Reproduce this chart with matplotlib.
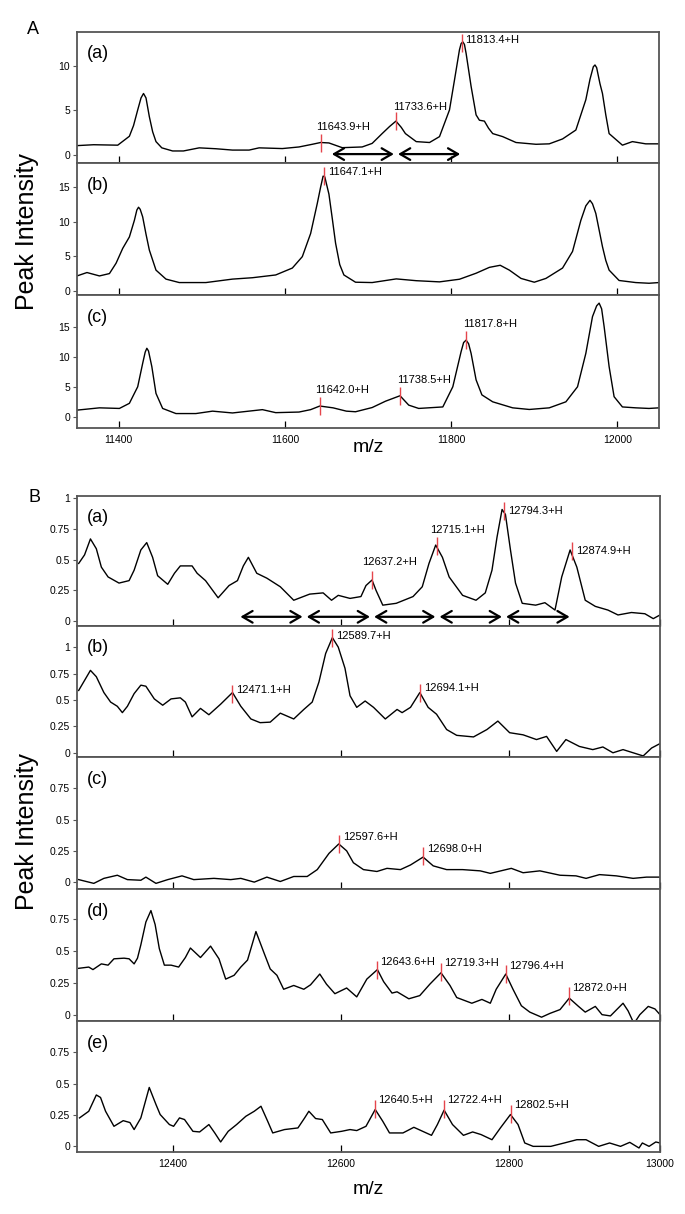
import matplotlib
matplotlib.use('Agg')
import matplotlib.pyplot as plt
from matplotlib.ticker import FuncFormatter

plt.rcParams['font.family'] = ['Liberation Sans Narrow', 'Liberation Sans', 'DejaVu Sans']

W, H = 685, 1214

# ---------------- panel A spectra ----------------
a_x1 = [11350, 11370, 11399, 11413, 11418, 11423, 11427, 11430, 11433, 11437, 11441, 11445,
        11452, 11465, 11478, 11497, 11517, 11537, 11557, 11569, 11597, 11617, 11633, 11643,
        11653, 11669, 11693, 11705, 11717, 11726, 11733.6, 11740, 11745, 11758, 11774, 11786,
        11798, 11804, 11810, 11812, 11814, 11816, 11818, 11824, 11830, 11834, 11840, 11845,
        11850, 11862, 11878, 11902, 11918, 11934, 11950, 11962, 11967, 11971, 11973, 11975,
        11979, 11982, 11986, 11990, 12006, 12018, 12034, 12050]
a_y1 = [1.05, 1.15, 1.1, 2.1, 3.3, 5.05, 6.4, 6.9, 6.4, 4.3, 2.6, 1.5,
        0.8, 0.45, 0.45, 0.8, 0.7, 0.55, 0.55, 0.8, 0.72, 0.9, 1.2, 1.4,
        1.35, 0.82, 0.9, 1.3, 2.4, 3.2, 3.8, 3.1, 2.4, 1.5, 1.4, 2.06,
        5.05, 8.4, 11.8, 12.5, 12.7, 12.4, 11.4, 7.7, 4.5, 3.9, 3.8, 3.0,
        2.4, 2.06, 1.4, 1.2, 1.25, 1.8, 2.8, 6.2, 8.5, 9.9, 10.1, 9.8,
        8.0, 6.9, 4.5, 2.4, 1.1, 1.5, 1.25, 1.25]

a_x2 = [11350, 11362, 11377, 11389, 11397, 11405, 11413, 11419, 11422, 11424, 11426, 11429,
        11433, 11437, 11445, 11457, 11473, 11505, 11537, 11561, 11589, 11609, 11621, 11631,
        11639, 11643, 11646, 11648, 11650, 11653, 11657, 11661, 11666, 11671, 11685, 11705,
        11734, 11758, 11786, 11810, 11830, 11846, 11859, 11870, 11884, 11900, 11914, 11934,
        11946, 11956, 11962, 11967, 11970, 11974, 11978, 11982, 11986, 11990, 12002, 12022,
        12038, 12050]
a_y2 = [2.16, 2.65, 2.16, 2.5, 4.0, 6.15, 7.8, 10.2, 11.7, 12.1, 11.8, 10.7,
        8.2, 5.9, 3.0, 1.7, 1.2, 1.2, 1.7, 1.9, 2.3, 3.3, 4.95, 8.3,
        12.65, 15.0, 16.6, 16.5, 15.5, 14.0, 10.5, 6.9, 3.8, 2.3, 1.25, 1.2,
        1.73, 1.47, 1.3, 1.68, 2.55, 3.4, 3.7, 3.0, 1.8, 1.25, 1.8, 3.3,
        5.7, 10.2, 12.3, 13.1, 12.6, 11.2, 8.8, 6.4, 4.4, 3.0, 1.5, 1.2,
        1.1, 1.2]

a_x3 = [11350, 11377, 11401, 11413, 11423, 11429, 11432, 11434, 11436, 11440, 11445, 11453,
        11469, 11493, 11513, 11537, 11573, 11589, 11617, 11631, 11642, 11658, 11674, 11685,
        11705, 11721, 11738.5, 11749, 11761, 11790, 11802, 11812, 11815, 11818, 11821, 11824,
        11830, 11837, 11850, 11874, 11894, 11918, 11938, 11952, 11962, 11970, 11975, 11978,
        11981, 11984, 11990, 11996, 12006, 12022, 12038, 12050]
a_y3 = [1.17, 1.55, 1.45, 2.3, 5.05, 8.95, 10.8, 11.45, 11.0, 8.4, 3.95, 1.45,
        0.6, 0.6, 1.0, 0.7, 1.25, 0.75, 0.85, 1.25, 1.85, 1.55, 1.0, 0.9,
        1.6, 2.65, 3.56, 2.0, 1.45, 1.7, 5.05, 10.9, 12.4, 12.8, 12.2, 10.6,
        6.2, 3.7, 2.55, 1.55, 1.28, 1.55, 2.55, 5.05, 10.6, 16.7, 18.5, 18.95,
        18.0, 15.05, 8.4, 3.4, 1.7, 1.55, 1.45, 1.55]

# labelled peaks (m/z, intensity at the mark)
a_pk1_x = [11643.9, 11733.6, 11813.4]
a_pk1_y = [1.4, 3.8, 12.6]
a_pk2_x = [11647.1]
a_pk2_y = [16.6]
a_pk3_x = [11642.0, 11738.5, 11817.8]
a_pk3_y = [1.85, 3.5, 12.9]

a_arrows = [11654, 11733.6, 11813.4]

# ---------------- panel B spectra ----------------
b_x1 = [12288, 12295, 12302, 12309, 12315, 12323, 12336, 12348, 12354, 12362, 12369, 12376,
        12382, 12394, 12402, 12409, 12423, 12429, 12439, 12454, 12467, 12477, 12484, 12490,
        12500, 12512, 12528, 12544, 12563, 12579, 12589, 12597, 12611, 12624, 12630, 12637.2,
        12642, 12650, 12666, 12686, 12697, 12705, 12713, 12721, 12729, 12745, 12761, 12772,
        12780, 12786, 12792, 12796, 12802, 12808, 12816, 12832, 12843, 12855, 12863, 12873,
        12881, 12891, 12903, 12918, 12930, 12946, 12962, 12972, 12980]
b_y1 = [0.47, 0.54, 0.67, 0.59, 0.44, 0.36, 0.31, 0.33, 0.415, 0.58, 0.64, 0.52,
        0.37, 0.30, 0.39, 0.45, 0.45, 0.39, 0.33, 0.19, 0.29, 0.33, 0.45, 0.52,
        0.39, 0.35, 0.28, 0.17, 0.22, 0.23, 0.17, 0.21, 0.185, 0.2, 0.29, 0.335,
        0.25, 0.13, 0.145, 0.2, 0.28, 0.47, 0.62, 0.52, 0.36, 0.21, 0.17, 0.23,
        0.415, 0.685, 0.91, 0.87, 0.58, 0.31, 0.145, 0.13, 0.15, 0.09, 0.36, 0.58,
        0.44, 0.17, 0.12, 0.09, 0.05, 0.07, 0.06, 0.02, 0.05]

b_x2 = [12288, 12295, 12302, 12309, 12318, 12326, 12334, 12340, 12346, 12354, 12362, 12368,
        12378, 12388, 12398, 12409, 12415, 12423, 12433, 12443, 12457, 12471.1, 12481, 12493,
        12504, 12516, 12528, 12544, 12556, 12566, 12574, 12582, 12590, 12597, 12605, 12611,
        12619, 12629, 12639, 12653, 12667, 12673, 12683, 12694.1, 12704, 12714, 12726, 12738,
        12758, 12774, 12787, 12801, 12817, 12833, 12845, 12857, 12868, 12884, 12900, 12912,
        12924, 12936, 12948, 12960, 12970, 12980]
b_y2 = [0.59, 0.685, 0.78, 0.72, 0.57, 0.48, 0.44, 0.38, 0.44, 0.56, 0.64, 0.63,
        0.51, 0.45, 0.51, 0.52, 0.48, 0.34, 0.42, 0.36, 0.46, 0.57, 0.44, 0.32,
        0.285, 0.29, 0.375, 0.32, 0.41, 0.48, 0.67, 0.94, 1.09, 1.0, 0.8, 0.54,
        0.43, 0.49, 0.43, 0.32, 0.41, 0.38, 0.43, 0.57, 0.43, 0.365, 0.22, 0.165,
        0.15, 0.22, 0.3, 0.19, 0.17, 0.125, 0.155, 0.013, 0.125, 0.06, 0.03, 0.055,
        0.0, 0.03, 0.0, -0.03, 0.045, 0.087]

b_x3 = [12288, 12306, 12318, 12334, 12346, 12362, 12368, 12380, 12394, 12411, 12425, 12449,
        12469, 12481, 12497, 12512, 12528, 12544, 12560, 12572, 12586, 12597.6, 12607, 12615,
        12627, 12643, 12655, 12671, 12683, 12698, 12710, 12726, 12745, 12766, 12778, 12803,
        12817, 12837, 12861, 12880, 12892, 12908, 12928, 12948, 12964, 12980]
b_y3 = [0.02, -0.01, 0.03, 0.055, 0.02, 0.015, 0.04, -0.01, 0.02, 0.05, 0.02, 0.03,
        0.02, 0.03, 0.0, 0.04, 0.005, 0.045, 0.045, 0.1, 0.23, 0.305, 0.25, 0.155,
        0.1, 0.085, 0.11, 0.1, 0.137, 0.2, 0.13, 0.1, 0.1, 0.09, 0.07, 0.11,
        0.075, 0.09, 0.055, 0.05, 0.03, 0.06, 0.05, 0.03, 0.04, 0.04]

b_x4 = [12288, 12300, 12305, 12315, 12323, 12330, 12342, 12348, 12354, 12358, 12362, 12368,
        12374, 12379, 12384, 12390, 12398, 12407, 12415, 12421, 12433, 12445, 12455, 12463,
        12473, 12481, 12489, 12499, 12509, 12516, 12524, 12532, 12544, 12556, 12564, 12575,
        12583, 12593, 12607, 12619, 12631, 12643.6, 12651, 12661, 12667, 12681, 12694, 12706,
        12719.3, 12730, 12738, 12756, 12768, 12778, 12785, 12796.4, 12805, 12815, 12825, 12839,
        12849, 12861, 12872, 12883, 12891, 12903, 12911, 12921, 12936, 12942, 12949, 12956,
        12966, 12974, 12980]
b_y4 = [0.365, 0.375, 0.355, 0.4, 0.39, 0.44, 0.445, 0.44, 0.4, 0.445, 0.55, 0.73,
        0.82, 0.71, 0.52, 0.39, 0.39, 0.375, 0.45, 0.525, 0.45, 0.54, 0.44, 0.28,
        0.31, 0.375, 0.43, 0.655, 0.48, 0.36, 0.31, 0.2, 0.23, 0.2, 0.235, 0.32,
        0.24, 0.165, 0.21, 0.14, 0.28, 0.355, 0.26, 0.17, 0.18, 0.125, 0.15, 0.24,
        0.33, 0.23, 0.135, 0.09, 0.12, 0.09, 0.2, 0.32, 0.2, 0.07, 0.02, -0.02,
        0.01, 0.04, 0.13, 0.065, 0.02, 0.065, 0.0, -0.01, 0.09, 0.03, -0.07, 0.0,
        0.065, 0.045, 0.0]

b_x5 = [12289, 12300, 12309, 12314, 12320, 12330, 12341, 12349, 12354, 12362, 12372, 12380,
        12385, 12396, 12401, 12408, 12414, 12424, 12432, 12443, 12450, 12457, 12466, 12476,
        12487, 12497, 12505, 12513, 12519, 12533, 12549, 12557, 12562, 12570, 12578, 12588,
        12601, 12611, 12619, 12630, 12641, 12650, 12658, 12674, 12687, 12708, 12715, 12723,
        12733, 12746, 12757, 12767, 12780, 12790, 12802, 12811, 12819, 12829, 12850, 12866,
        12881, 12892, 12907, 12920, 12933, 12944, 12955, 12959, 12967, 12975, 12980]
b_y5 = [0.227, 0.28, 0.41, 0.39, 0.28, 0.16, 0.205, 0.19, 0.134, 0.227, 0.47, 0.334,
        0.254, 0.174, 0.16, 0.227, 0.214, 0.12, 0.115, 0.174, 0.107, 0.035, 0.12, 0.174,
        0.24, 0.28, 0.32, 0.2, 0.107, 0.134, 0.147, 0.227, 0.28, 0.222, 0.214, 0.107,
        0.12, 0.134, 0.126, 0.16, 0.294, 0.2, 0.107, 0.107, 0.152, 0.088, 0.174, 0.289,
        0.174, 0.088, 0.115, 0.094, 0.053, 0.147, 0.254, 0.174, 0.027, 0.0, 0.0, 0.027,
        0.053, 0.053, 0.0, 0.027, 0.0, 0.032, -0.013, 0.027, 0.0, 0.035, 0.027]

b_pk1_x = [12637.2, 12715.1, 12794.3, 12874.9]
b_pk1_y = [0.335, 0.61, 0.9, 0.57]
b_pk2_x = [12471.1, 12589.7, 12694.1]
b_pk2_y = [0.56, 1.09, 0.567]
b_pk3_x = [12597.6, 12698.0]
b_pk3_y = [0.306, 0.21]
b_pk4_x = [12643.6, 12719.3, 12796.4, 12872.0]
b_pk4_y = [0.352, 0.338, 0.318, 0.144]
b_pk5_x = [12640.5, 12722.4, 12802.5]
b_pk5_y = [0.30, 0.30, 0.26]

b_arrows = [12478, 12557, 12637.2, 12715.1, 12794.3, 12874.9]

a_xticks = [11400, 11600, 11800, 12000]
b_xticks = [12400, 12600, 12800, 12980]
b_xticklabels = ['12400', '12600', '12800', '13000']

RED = '#e5454c'
SPINE = '#555555'
PX = 0.72  # points per pixel at dpi 100

fig = plt.figure(figsize=(W / 100, H / 100), dpi=100)


def add_panel(top, bottom, left, right, x, y, xlim, ylim, yticks, tag, xticks, xticklabels=None, show_x=False):
    ax = fig.add_axes([left / W, 1 - bottom / H, (right - left) / W, (bottom - top) / H])
    ax.plot(x, y, color='black', lw=1.0)
    ax.set_xlim(xlim)
    ax.set_ylim(ylim)
    ax.set_yticks(yticks)
    ax.yaxis.set_major_formatter(FuncFormatter(lambda v, p: '%g' % v))
    ax.set_xticks(xticks)
    if xticklabels is not None:
        ax.set_xticklabels(xticklabels)
    ax.tick_params(axis='y', direction='out', length=3, width=0.8, labelsize=7.5, pad=2, color=SPINE)
    ax.tick_params(axis='x', direction='in', length=5, width=0.9, labelsize=7.5, pad=5, color='black',
                   labelbottom=show_x)
    for s in ax.spines.values():
        s.set_color(SPINE)
        s.set_linewidth(1.3)
    ax.text(0.017, 1 - 22 / (bottom - top), tag, transform=ax.transAxes, fontsize=13,
            family=['Liberation Sans', 'DejaVu Sans'], va='center', ha='left')
    return ax


def mark_peaks(ax, xs, ys, offsets):
    # offsets: (dx px, dy px, mode) ; mode 'up' puts the label above the mark
    for x, y, (dx, dy, mode) in zip(xs, ys, offsets):
        ax.plot([x], [y], marker='|', ms=13, mew=1.0, color=RED, zorder=3)
        va = 'bottom' if mode == 'up' else 'center'
        ax.annotate('%.1f+H' % x, (x, y), xytext=(dx * PX, dy * PX), textcoords='offset points',
                    ha='left', va=va, fontsize=8)


def draw_arrows(ax, xs, y):
    for x0, x1 in zip(xs[:-1], xs[1:]):
        ax.annotate('', xy=(x1, y), xytext=(x0, y),
                    arrowprops=dict(arrowstyle='<->,head_length=0.6,head_width=0.35', lw=1.6,
                                    color='black', shrinkA=1.5, shrinkB=1.5, mutation_scale=12))


LA, RA = 77, 659
a_xlim = (11350, 12050)
ax = add_panel(32, 163, LA, RA, a_x1, a_y1, a_xlim, (-0.9, 13.8), [0, 5, 10], '(a)', a_xticks)
mark_peaks(ax, a_pk1_x, a_pk1_y, [(-5, 11, 'up'), (-3, 9, 'up'), (3, 3, 'r')])
draw_arrows(ax, a_arrows, 0.1)
ax = add_panel(163, 295, LA, RA, a_x2, a_y2, a_xlim, (-0.6, 18.5), [0, 5, 10, 15], '(b)', a_xticks)
mark_peaks(ax, a_pk2_x, a_pk2_y, [(4, 4, 'r')])
ax = add_panel(295, 428, LA, RA, a_x3, a_y3, a_xlim, (-1.8, 20.3), [0, 5, 10, 15], '(c)', a_xticks,
               show_x=True)
mark_peaks(ax, a_pk3_x, a_pk3_y, [(-5, 11, 'up'), (-3, 11, 'up'), (-3, 11, 'up')])

LB, RB = 77, 660
b_xlim = (12286, 12980)
ax = add_panel(496, 626, LB, RB, b_x1, b_y1, b_xlim, (-0.04, 1.02), [0, 0.25, 0.5, 0.75, 1], '(a)', b_xticks)
mark_peaks(ax, b_pk1_x, b_pk1_y, [(-10, 13, 'up'), (-7, 11, 'up'), (4, 0, 'r'), (4, 0, 'r')])
draw_arrows(ax, b_arrows, 0.035)
ax = add_panel(626, 757, LB, RB, b_x2, b_y2, b_xlim, (-0.04, 1.2), [0, 0.25, 0.5, 0.75, 1], '(b)', b_xticks)
mark_peaks(ax, b_pk2_x, b_pk2_y, [(4, 4, 'r'), (4, 2, 'r'), (4, 5, 'r')])
ax = add_panel(757, 889, LB, RB, b_x3, b_y3, b_xlim, (-0.055, 1.0), [0, 0.25, 0.5, 0.75], '(c)', b_xticks)
mark_peaks(ax, b_pk3_x, b_pk3_y, [(4, 7, 'r'), (4, 7, 'r')])
ax = add_panel(889, 1021, LB, RB, b_x4, b_y4, b_xlim, (-0.05, 0.99), [0, 0.25, 0.5, 0.75], '(d)', b_xticks)
mark_peaks(ax, b_pk4_x, b_pk4_y, [(3, 8, 'r'), (3, 9, 'r'), (3, 8, 'r'), (3, 8, 'r')])
ax = add_panel(1021, 1152, LB, RB, b_x5, b_y5, b_xlim, (-0.045, 1.0), [0, 0.25, 0.5, 0.75], '(e)', b_xticks,
               xticklabels=b_xticklabels, show_x=True)
mark_peaks(ax, b_pk5_x, b_pk5_y, [(3, 9, 'r'), (3, 9, 'r'), (3, 9, 'r')])

# figure-level text
fig.text(33 / W, 1 - 30 / H, 'A', fontsize=13, family=['Liberation Sans', 'DejaVu Sans'], ha='center', va='center')
fig.text(35 / W, 1 - 497 / H, 'B', fontsize=13, family=['Liberation Sans', 'DejaVu Sans'], ha='center', va='center')
fig.text(27 / W, 1 - 232 / H, 'Peak Intensity', rotation=90, fontsize=18,
         family=['Liberation Sans', 'DejaVu Sans'], ha='center', va='center')
fig.text(27 / W, 1 - 832 / H, 'Peak Intensity', rotation=90, fontsize=18,
         family=['Liberation Sans', 'DejaVu Sans'], ha='center', va='center')
fig.text((LA + RA) / 2 / W, 1 - 447 / H, 'm/z', fontsize=14, ha='center', va='center')
fig.text((LB + RB) / 2 / W, 1 - 1190 / H, 'm/z', fontsize=14, ha='center', va='center')

fig.savefig('out.png', dpi=100)
